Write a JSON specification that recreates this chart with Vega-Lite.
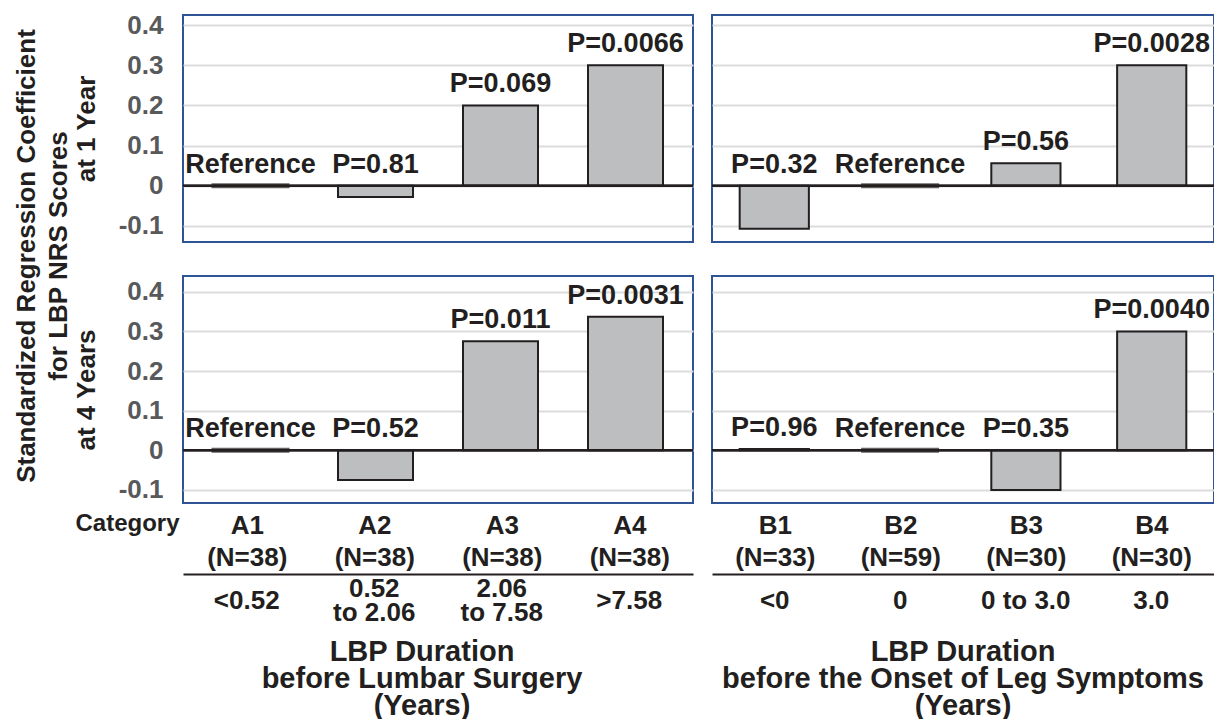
{
  "$schema": "https://vega.github.io/schema/vega-lite/v6.json",
  "padding": {"left": 14, "top": 11, "right": 0, "bottom": 0},
  "autosize": {"type": "pad"},
  "title": {"text": ["Standardized Regression Coefficient", "for LBP NRS Scores"], "orient": "left", "anchor": "middle", "fontSize": 26, "fontWeight": "bold", "color": "#231f20", "lineHeight": 32, "offset": 0, "dx": 110},
  "datasets": {
    "bars": [
      {"time": "1", "grp": "A", "cat": "A1", "value": 0, "p": "Reference"},
      {"time": "1", "grp": "A", "cat": "A2", "value": -0.028, "p": "P=0.81"},
      {"time": "1", "grp": "A", "cat": "A3", "value": 0.2, "p": "P=0.069"},
      {"time": "1", "grp": "A", "cat": "A4", "value": 0.3, "p": "P=0.0066"},
      {"time": "1", "grp": "B", "cat": "B1", "value": -0.107, "p": "P=0.32"},
      {"time": "1", "grp": "B", "cat": "B2", "value": 0, "p": "Reference"},
      {"time": "1", "grp": "B", "cat": "B3", "value": 0.056, "p": "P=0.56"},
      {"time": "1", "grp": "B", "cat": "B4", "value": 0.3, "p": "P=0.0028"},
      {"time": "4", "grp": "A", "cat": "A1", "value": 0, "p": "Reference"},
      {"time": "4", "grp": "A", "cat": "A2", "value": -0.075, "p": "P=0.52"},
      {"time": "4", "grp": "A", "cat": "A3", "value": 0.275, "p": "P=0.011"},
      {"time": "4", "grp": "A", "cat": "A4", "value": 0.337, "p": "P=0.0031"},
      {"time": "4", "grp": "B", "cat": "B1", "value": 0.003, "p": "P=0.96"},
      {"time": "4", "grp": "B", "cat": "B2", "value": 0, "p": "Reference"},
      {"time": "4", "grp": "B", "cat": "B3", "value": -0.1, "p": "P=0.35"},
      {"time": "4", "grp": "B", "cat": "B4", "value": 0.3, "p": "P=0.0040"}
    ],
    "labs": [
      {"grp": "A", "head": "A1 (N=38)", "range": "<0.52"},
      {"grp": "A", "head": "A2 (N=38)", "range": "0.52|to 2.06"},
      {"grp": "A", "head": "A3 (N=38)", "range": "2.06|to 7.58"},
      {"grp": "A", "head": "A4 (N=38)", "range": ">7.58"},
      {"grp": "B", "head": "B1 (N=33)", "range": "<0"},
      {"grp": "B", "head": "B2 (N=59)", "range": "0"},
      {"grp": "B", "head": "B3 (N=30)", "range": "0 to 3.0"},
      {"grp": "B", "head": "B4 (N=30)", "range": "3.0"}
    ]
  },
  "columns": 2,
  "spacing": {"row": 34, "column": 19},
  "bounds": "flush",
  "resolve": {"scale": {"x": "independent", "y": "independent"}},
  "concat": [
    {
      "width": 510, "height": 227,
      "data": {"name": "bars"},
      "transform": [{"filter": "datum.time == '1' && datum.grp == 'A'"}],
      "encoding": {"y": {"field": "value", "type": "quantitative", "scale": {"domain": [-0.14, 0.425], "nice": false, "zero": false},
        "axis": {"values": [-0.1, 0, 0.1, 0.2, 0.3, 0.4], "labelExpr": "'' + datum.value", "grid": true, "gridColor": "#dcdcdc", "gridWidth": 2, "domain": false, "ticks": false, "labelFontSize": 26, "labelFontWeight": "bold", "labelColor": "#58595b", "labelPadding": 20, "title": "at 1 Year", "titleFontSize": 26, "titleFontWeight": "bold", "titleColor": "#231f20", "titlePadding": 19}}},
      "layer": [
        {"mark": {"type": "bar", "fill": "#bcbec0", "stroke": "#231f20", "strokeWidth": 2}, "encoding": {"x": {"field": "cat", "type": "nominal", "scale": {"paddingInner": 0.4, "paddingOuter": 0.24}, "axis": null}}},
        {"mark": {"type": "rule", "color": "#231f20", "strokeWidth": 2}, "encoding": {"y": {"datum": 0}}},
        {"transform": [{"filter": "datum.value == 0"}], "mark": {"type": "tick", "color": "#231f20", "thickness": 5, "size": 78}, "encoding": {"x": {"field": "cat", "type": "nominal", "axis": null}}},
        {"transform": [{"filter": "datum.value >= 0"}], "mark": {"type": "text", "fontSize": 27, "fontWeight": "bold", "color": "#231f20", "baseline": "alphabetic", "dy": -13}, "encoding": {"x": {"field": "cat", "type": "nominal", "axis": null}, "text": {"field": "p"}}},
        {"transform": [{"filter": "datum.value < 0"}], "mark": {"type": "text", "fontSize": 27, "fontWeight": "bold", "color": "#231f20", "baseline": "alphabetic", "dy": -13}, "encoding": {"x": {"field": "cat", "type": "nominal", "axis": null}, "y": {"datum": 0}, "text": {"field": "p"}}}
      ]
    },
    {
      "width": 502, "height": 227,
      "data": {"name": "bars"},
      "transform": [{"filter": "datum.time == '1' && datum.grp == 'B'"}],
      "encoding": {"y": {"field": "value", "type": "quantitative", "scale": {"domain": [-0.14, 0.425], "nice": false, "zero": false},
        "axis": {"values": [-0.1, 0, 0.1, 0.2, 0.3, 0.4], "grid": true, "gridColor": "#dcdcdc", "gridWidth": 2, "domain": false, "ticks": false, "labels": false, "title": null}}},
      "layer": [
        {"mark": {"type": "bar", "fill": "#bcbec0", "stroke": "#231f20", "strokeWidth": 2}, "encoding": {"x": {"field": "cat", "type": "nominal", "scale": {"paddingInner": 0.45, "paddingOuter": 0.22}, "axis": null}}},
        {"mark": {"type": "rule", "color": "#231f20", "strokeWidth": 2}, "encoding": {"y": {"datum": 0}}},
        {"transform": [{"filter": "datum.value == 0"}], "mark": {"type": "tick", "color": "#231f20", "thickness": 5, "size": 78}, "encoding": {"x": {"field": "cat", "type": "nominal", "axis": null}}},
        {"transform": [{"filter": "datum.value >= 0"}], "mark": {"type": "text", "fontSize": 27, "fontWeight": "bold", "color": "#231f20", "baseline": "alphabetic", "dy": -13}, "encoding": {"x": {"field": "cat", "type": "nominal", "axis": null}, "text": {"field": "p"}}},
        {"transform": [{"filter": "datum.value < 0"}], "mark": {"type": "text", "fontSize": 27, "fontWeight": "bold", "color": "#231f20", "baseline": "alphabetic", "dy": -13}, "encoding": {"x": {"field": "cat", "type": "nominal", "axis": null}, "y": {"datum": 0}, "text": {"field": "p"}}}
      ]
    },
    {
      "width": 510, "height": 227,
      "data": {"name": "bars"},
      "transform": [{"filter": "datum.time == '4' && datum.grp == 'A'"}],
      "encoding": {"y": {"field": "value", "type": "quantitative", "scale": {"domain": [-0.133, 0.44], "nice": false, "zero": false},
        "axis": {"values": [-0.1, 0, 0.1, 0.2, 0.3, 0.4], "labelExpr": "'' + datum.value", "grid": true, "gridColor": "#dcdcdc", "gridWidth": 2, "domain": false, "ticks": false, "labelFontSize": 26, "labelFontWeight": "bold", "labelColor": "#58595b", "labelPadding": 20, "title": "at 4 Years", "titleFontSize": 26, "titleFontWeight": "bold", "titleColor": "#231f20", "titlePadding": 19}}},
      "layer": [
        {"mark": {"type": "bar", "fill": "#bcbec0", "stroke": "#231f20", "strokeWidth": 2}, "encoding": {"x": {"field": "cat", "type": "nominal", "scale": {"paddingInner": 0.4, "paddingOuter": 0.24}, "axis": null}}},
        {"mark": {"type": "rule", "color": "#231f20", "strokeWidth": 2}, "encoding": {"y": {"datum": 0}}},
        {"transform": [{"filter": "datum.value == 0"}], "mark": {"type": "tick", "color": "#231f20", "thickness": 5, "size": 78}, "encoding": {"x": {"field": "cat", "type": "nominal", "axis": null}}},
        {"transform": [{"filter": "datum.value >= 0"}], "mark": {"type": "text", "fontSize": 27, "fontWeight": "bold", "color": "#231f20", "baseline": "alphabetic", "dy": -13}, "encoding": {"x": {"field": "cat", "type": "nominal", "axis": null}, "text": {"field": "p"}}},
        {"transform": [{"filter": "datum.value < 0"}], "mark": {"type": "text", "fontSize": 27, "fontWeight": "bold", "color": "#231f20", "baseline": "alphabetic", "dy": -13}, "encoding": {"x": {"field": "cat", "type": "nominal", "axis": null}, "y": {"datum": 0}, "text": {"field": "p"}}}
      ]
    },
    {
      "width": 502, "height": 227,
      "data": {"name": "bars"},
      "transform": [{"filter": "datum.time == '4' && datum.grp == 'B'"}],
      "encoding": {"y": {"field": "value", "type": "quantitative", "scale": {"domain": [-0.133, 0.44], "nice": false, "zero": false},
        "axis": {"values": [-0.1, 0, 0.1, 0.2, 0.3, 0.4], "grid": true, "gridColor": "#dcdcdc", "gridWidth": 2, "domain": false, "ticks": false, "labels": false, "title": null}}},
      "layer": [
        {"mark": {"type": "bar", "fill": "#bcbec0", "stroke": "#231f20", "strokeWidth": 2}, "encoding": {"x": {"field": "cat", "type": "nominal", "scale": {"paddingInner": 0.45, "paddingOuter": 0.22}, "axis": null}}},
        {"mark": {"type": "rule", "color": "#231f20", "strokeWidth": 2}, "encoding": {"y": {"datum": 0}}},
        {"transform": [{"filter": "datum.value == 0"}], "mark": {"type": "tick", "color": "#231f20", "thickness": 5, "size": 78}, "encoding": {"x": {"field": "cat", "type": "nominal", "axis": null}}},
        {"transform": [{"filter": "datum.value >= 0"}], "mark": {"type": "text", "fontSize": 27, "fontWeight": "bold", "color": "#231f20", "baseline": "alphabetic", "dy": -13}, "encoding": {"x": {"field": "cat", "type": "nominal", "axis": null}, "text": {"field": "p"}}},
        {"transform": [{"filter": "datum.value < 0"}], "mark": {"type": "text", "fontSize": 27, "fontWeight": "bold", "color": "#231f20", "baseline": "alphabetic", "dy": -13}, "encoding": {"x": {"field": "cat", "type": "nominal", "axis": null}, "y": {"datum": 0}, "text": {"field": "p"}}}
      ]
    },
    {
      "width": 510, "height": 90,
      "data": {"name": "labs"},
      "view": {"stroke": null},
      "title": {"text": ["LBP Duration", "before Lumbar Surgery", "(Years)"], "orient": "bottom", "anchor": "middle", "fontSize": 29, "fontWeight": "bold", "color": "#231f20", "lineHeight": 27, "offset": 11, "dx": -16},
      "transform": [{"filter": "datum.grp == 'A'"}],
      "encoding": {
        "x": {"field": "head", "type": "nominal", "scale": {"paddingInner": 0.4, "paddingOuter": 0.24},
          "axis": {"orient": "top", "offset": -37, "labelExpr": "split(datum.value, ' ')", "labelLineHeight": 32, "labelFontSize": 26, "labelFontWeight": "bold", "labelColor": "#231f20", "labelPadding": 36, "labelAngle": 0, "ticks": false, "domainColor": "#231f20", "domainWidth": 2, "title": "Category", "titleFontSize": 24, "titleFontWeight": "bold", "titleColor": "#231f20", "titleAngle": 0, "titleAlign": "right", "titleBaseline": "middle", "titleX": -4, "titleY": -51}},
        "text": {"field": "range"}
      },
      "layer": [
        {"transform": [{"filter": "indexof(datum.range, '|') < 0"}], "mark": {"type": "text", "fontSize": 26, "fontWeight": "bold", "color": "#231f20", "lineBreak": "|", "lineHeight": 24, "baseline": "middle", "dy": 19}},
        {"transform": [{"filter": "indexof(datum.range, '|') >= 0"}], "mark": {"type": "text", "fontSize": 26, "fontWeight": "bold", "color": "#231f20", "lineBreak": "|", "lineHeight": 24, "baseline": "middle", "dy": 7}}
      ]
    },
    {
      "width": 502, "height": 90,
      "data": {"name": "labs"},
      "view": {"stroke": null},
      "title": {"text": ["LBP Duration", "before the Onset of Leg Symptoms", "(Years)"], "orient": "bottom", "anchor": "middle", "fontSize": 29, "fontWeight": "bold", "color": "#231f20", "lineHeight": 27, "offset": 11},
      "transform": [{"filter": "datum.grp == 'B'"}],
      "encoding": {
        "x": {"field": "head", "type": "nominal", "scale": {"paddingInner": 0.45, "paddingOuter": 0.22},
          "axis": {"orient": "top", "offset": -37, "labelExpr": "split(datum.value, ' ')", "labelLineHeight": 32, "labelFontSize": 26, "labelFontWeight": "bold", "labelColor": "#231f20", "labelPadding": 36, "labelAngle": 0, "ticks": false, "domainColor": "#231f20", "domainWidth": 2, "title": null}},
        "text": {"field": "range"}
      },
      "layer": [
        {"transform": [{"filter": "indexof(datum.range, '|') < 0"}], "mark": {"type": "text", "fontSize": 26, "fontWeight": "bold", "color": "#231f20", "lineBreak": "|", "lineHeight": 24, "baseline": "middle", "dy": 19}},
        {"transform": [{"filter": "indexof(datum.range, '|') >= 0"}], "mark": {"type": "text", "fontSize": 26, "fontWeight": "bold", "color": "#231f20", "lineBreak": "|", "lineHeight": 24, "baseline": "middle", "dy": 7}}
      ]
    }
  ],
  "config": {
    "font": "Liberation Sans",
    "view": {"stroke": "#2f5496", "strokeWidth": 2}
  }
}
